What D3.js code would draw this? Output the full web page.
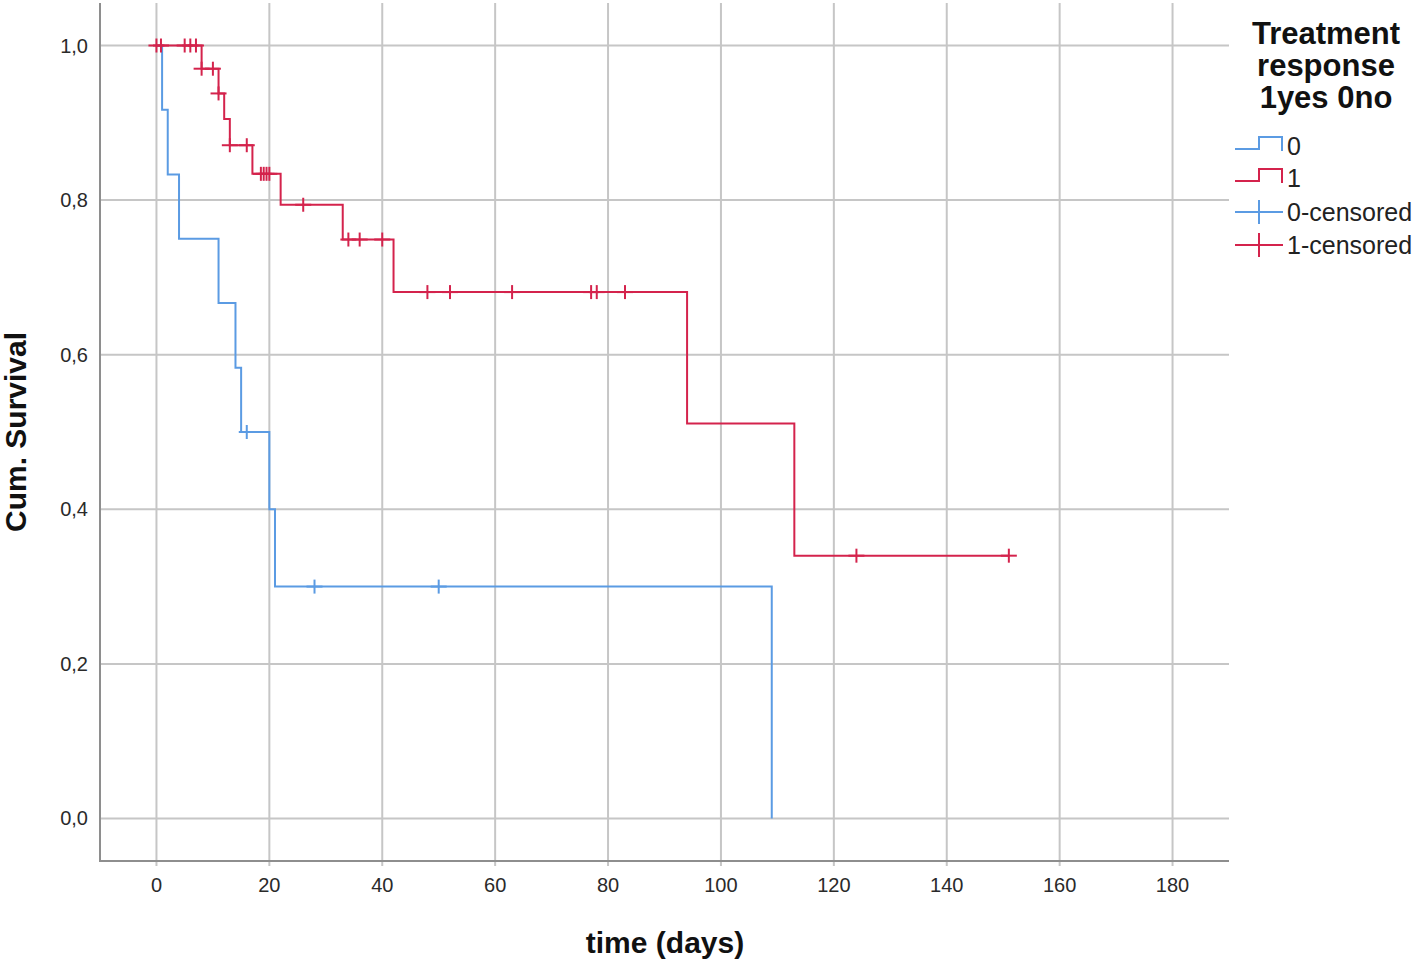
<!DOCTYPE html>
<meta charset="utf-8">
<script src="https://cdn.jsdelivr.net/npm/d3@7"></script>
<style>
  body { margin: 0; background: #fff; }
  text { font-family: "Liberation Sans", Arial, sans-serif; }
</style>
<svg id="chart" width="1418" height="964"></svg>
<script>

// Kaplan-Meier steps, group 0 (no response)
var times0 = [1, 2, 4, 11, 14, 15, 20, 21, 109];
var surv0  = [0.917, 0.833, 0.75, 0.667, 0.583, 0.5, 0.4, 0.3, 0];
var cens0  = [16, 28, 50];

// group 1 (response)
var times1 = [8, 11, 12, 13, 17, 22, 33, 42, 94, 113];
var surv1  = [0.970, 0.938, 0.905, 0.871, 0.834, 0.794, 0.749, 0.681, 0.511, 0.340];
var cens1  = [0, 0.8, 5, 6, 7, 8, 10, 11, 13, 16, 18.5, 19, 19.5, 20, 26, 34, 36, 40, 48, 52, 63, 77, 78, 83, 124, 151];

var xTicks = [0, 20, 40, 60, 80, 100, 120, 140, 160, 180];
var yTicks = [0, 0.2, 0.4, 0.6, 0.8, 1.0];

var legendLabels = ["0", "1", "0-censored", "1-censored"];

var blue = "#5b9be3", red = "#d4234c";
var gridCol = "#c6c6c6", axisCol = "#8e8e8e";

var svg = d3.select("#chart");

var x = d3.scaleLinear().domain([-10, 190]).range([100, 1229]);
var y = d3.scaleLinear().domain([-0.055, 1.055]).range([861, 3]);

// grid
svg.append("g").selectAll("line")
  .data(yTicks).enter().append("line")
    .attr("x1", x(-10)).attr("x2", x(190))
    .attr("y1", function(d){ return y(d) }).attr("y2", function(d){ return y(d) })
    .attr("stroke", gridCol).attr("stroke-width", 2);

svg.append("g").selectAll("line")
  .data(xTicks).enter().append("line")
    .attr("x1", function(d){ return x(d) }).attr("x2", function(d){ return x(d) })
    .attr("y1", y(1.055)).attr("y2", y(-0.055) + 5)
    .attr("stroke", gridCol).attr("stroke-width", 2);

// axis lines
svg.append("line")
  .attr("x1", x(-10)).attr("x2", x(-10)).attr("y1", y(1.055)).attr("y2", y(-0.055) + 1)
  .attr("stroke", axisCol).attr("stroke-width", 2);
svg.append("line")
  .attr("x1", x(-10) - 1).attr("x2", x(190)).attr("y1", y(-0.055)).attr("y2", y(-0.055))
  .attr("stroke", axisCol).attr("stroke-width", 2);

// tick labels
svg.append("g").selectAll("text")
  .data(yTicks).enter().append("text")
    .attr("x", 88)
    .attr("y", function(d){ return y(d) + 7 })
    .attr("text-anchor", "end")
    .style("font-size", "20px").style("fill", "#2a2a2a")
    .text(function(d){ return d3.format(".1f")(d).replace(".", ",") });

svg.append("g").selectAll("text")
  .data(xTicks).enter().append("text")
    .attr("x", function(d){ return x(d) })
    .attr("y", 892)
    .attr("text-anchor", "middle")
    .style("font-size", "20px").style("fill", "#2a2a2a")
    .text(function(d){ return d });

// axis titles
svg.append("text")
  .attr("transform", "translate(26,432) rotate(-90)")
  .attr("text-anchor", "middle")
  .style("font-size", "30px").style("font-weight", "bold").style("fill", "#111")
  .text("Cum. Survival");

svg.append("text")
  .attr("x", 665).attr("y", 953)
  .attr("text-anchor", "middle")
  .style("font-size", "30px").style("font-weight", "bold").style("fill", "#111")
  .text("time (days)");

// survival curves
var line = d3.line()
  .x(function(d){ return x(d[0]) })
  .y(function(d){ return y(d[1]) })
  .curve(d3.curveStepAfter);

function stepPoints(times, surv, lastT) {
  var pts = [[0, 1]];
  times.forEach(function(t, i){ pts.push([t, surv[i]]) });
  if (lastT > times[times.length - 1]) pts.push([lastT, surv[surv.length - 1]]);
  return pts;
}

function survAt(times, surv, t) {
  var s = 1;
  times.forEach(function(tt, i){ if (tt <= t) s = surv[i] });
  return s;
}

function drawGroup(times, surv, cens, col) {
  var lastT = Math.max(times[times.length - 1], d3.max(cens));
  svg.append("path")
    .datum(stepPoints(times, surv, lastT))
    .attr("d", line)
    .attr("fill", "none").attr("stroke", col).attr("stroke-width", 2);

  var marks = svg.append("g").selectAll("g")
    .data(cens).enter().append("g")
      .attr("transform", function(d){
        return "translate(" + x(d) + "," + y(survAt(times, surv, d)) + ")";
      });
  marks.append("line").attr("x1", -8).attr("x2", 8).attr("y1", 0).attr("y2", 0)
    .attr("stroke", col).attr("stroke-width", 2);
  marks.append("line").attr("x1", 0).attr("x2", 0).attr("y1", -7).attr("y2", 7)
    .attr("stroke", col).attr("stroke-width", 2);
}

drawGroup(times0, surv0, cens0, blue);
drawGroup(times1, surv1, cens1, red);

// legend
var legTitle = ["Treatment", "response", "1yes 0no"];
svg.append("g").selectAll("text")
  .data(legTitle).enter().append("text")
    .attr("x", 1326)
    .attr("y", function(d, i){ return 44 + i * 32 })
    .attr("text-anchor", "middle")
    .style("font-size", "31px").style("font-weight", "bold").style("fill", "#111")
    .text(function(d){ return d });

var legCols = [blue, red, blue, red];
var legY = [146, 178, 212, 245];

legendLabels.forEach(function(lab, i){
  var cy = legY[i], col = legCols[i];
  if (i < 2) {
    svg.append("path")
      .attr("d", "M1235," + (cy + 3) + "H1259V" + (cy - 9) + "H1282V" + (cy + 5))
      .attr("fill", "none").attr("stroke", col).attr("stroke-width", 2);
  } else {
    svg.append("line").attr("x1", 1235).attr("x2", 1283).attr("y1", cy).attr("y2", cy)
      .attr("stroke", col).attr("stroke-width", 2);
    svg.append("line").attr("x1", 1259).attr("x2", 1259).attr("y1", cy - 12).attr("y2", cy + 12)
      .attr("stroke", col).attr("stroke-width", 2);
  }
  svg.append("text")
    .attr("x", 1287).attr("y", cy + 9)
    .style("font-size", "25px").style("fill", "#222")
    .text(lab);
});

</script>
